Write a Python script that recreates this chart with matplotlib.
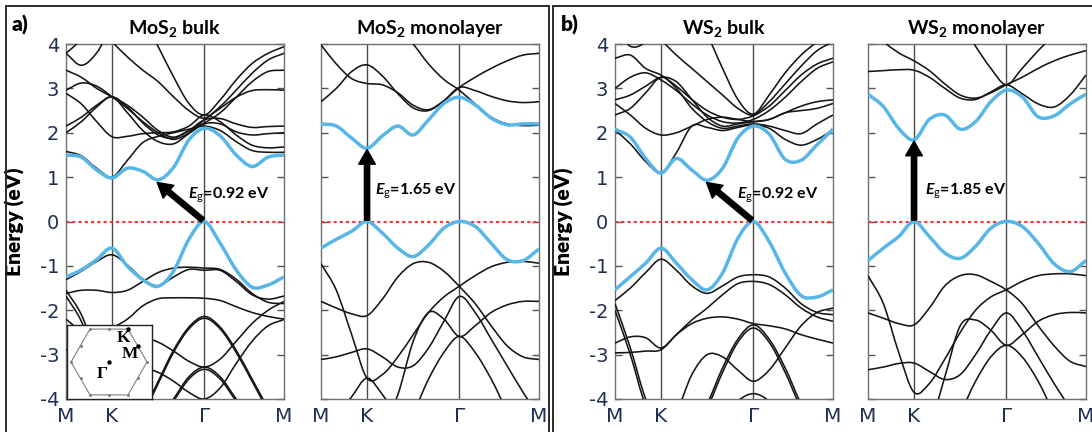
import numpy as np
import matplotlib
matplotlib.use('Agg')
import matplotlib.pyplot as plt
from matplotlib.path import Path
from matplotlib.patches import PathPatch, Rectangle, RegularPolygon

plt.rcParams['font.family'] = 'DejaVu Sans'
plt.rcParams['axes.unicode_minus'] = False
plt.rcParams['mathtext.fontset'] = 'custom'
plt.rcParams['mathtext.rm'] = 'Lato'
plt.rcParams['mathtext.it'] = 'Lato:italic:bold'
plt.rcParams['mathtext.bf'] = 'Lato:bold'

# k-path M-K-Gamma-M (units of 2pi/a, |MK| = 1/3, |KG| = 2/3, |GM| = 1/sqrt3)
k_path = [0.0, 0.111, 0.222, 0.333, 0.444, 0.556, 0.667, 0.778, 0.889, 1.0,
          1.115, 1.231, 1.346, 1.462, 1.577]
sym_k = [0.0, 0.333, 1.0, 1.577]
sym_labels = ['M', 'K', 'Γ', 'M']

# ---- MoS2 bulk ----
mos2_bulk_cb = [1.50, 1.45, 1.16, 0.98, 1.20, 1.13, 0.94, 1.22, 1.84, 2.10, 1.93, 1.50, 1.24, 1.45, 1.50]
mos2_bulk_vb = [-1.25, -1.09, -0.86, -0.60, -1.01, -1.31, -1.46, -1.12, -0.40, 0.0, -0.49, -1.09, -1.48, -1.43, -1.25]
mos2_bulk_other = [
    [3.79, 3.52, 3.80, 4.40, 4.70, 4.70, 4.70, 4.70, 4.70, 4.70, 4.70, 4.70, 4.70, 4.70, 4.70],
    [3.79, 4.10, 4.50, 4.70, 4.70, 4.70, 4.70, 4.70, 4.70, 4.70, 4.70, 4.70, 4.70, 4.70, 4.70],
    [4.70, 4.70, 4.40, 4.05, 3.71, 3.41, 3.15, 2.81, 2.50, 2.33, 2.59, 2.96, 3.34, 3.64, 3.79],
    [4.70, 4.70, 4.70, 4.70, 4.70, 4.60, 3.94, 3.26, 2.66, 2.40, 2.74, 3.19, 3.56, 3.79, 3.94],
    [3.41, 3.25, 3.00, 2.81, 2.62, 2.35, 2.05, 1.90, 2.05, 2.22, 2.45, 2.80, 3.15, 3.38, 3.41],
    [2.96, 3.12, 3.05, 2.81, 2.55, 2.25, 2.00, 1.85, 2.00, 2.29, 2.55, 2.80, 2.95, 2.97, 2.96],
    [2.15, 2.35, 2.62, 2.81, 2.58, 2.22, 1.95, 1.88, 2.05, 2.29, 2.32, 2.20, 2.12, 2.14, 2.15],
    [2.00, 2.25, 2.58, 2.81, 2.45, 2.05, 1.80, 1.75, 1.98, 2.20, 2.20, 2.02, 1.95, 1.98, 2.00],
    [2.89, 2.65, 2.25, 1.91, 1.92, 1.98, 2.00, 2.02, 2.15, 2.40, 2.25, 1.95, 1.72, 1.66, 1.68],
    [1.58, 1.48, 1.20, 1.00, 1.38, 1.78, 1.92, 2.00, 2.08, 2.15, 2.05, 1.80, 1.60, 1.56, 1.56],
    [-1.31, -1.12, -0.90, -0.75, -0.98, -1.30, -1.45, -1.25, -1.08, -1.10, -1.10, -1.35, -1.65, -1.75, -1.68],
    [-1.62, -1.55, -1.55, -1.60, -1.55, -1.35, -1.15, -1.05, -1.03, -1.05, -1.08, -1.30, -1.62, -1.82, -1.85],
    [-2.90, -2.75, -2.55, -2.40, -2.20, -1.90, -1.74, -1.72, -1.72, -1.73, -1.78, -1.92, -2.05, -2.14, -2.20],
    [-4.70, -4.70, -4.70, -4.70, -4.70, -4.30, -3.60, -2.90, -2.38, -2.14, -2.38, -2.90, -3.55, -4.20, -4.70],
    [-4.70, -4.70, -4.70, -4.70, -4.70, -4.35, -3.65, -2.95, -2.42, -2.18, -2.42, -2.95, -3.60, -4.25, -4.70],
    [-4.70, -4.70, -4.00, -3.20, -2.75, -2.62, -2.72, -2.92, -3.15, -3.28, -3.10, -2.70, -2.30, -2.00, -1.80],
    [-4.70, -4.70, -4.70, -4.70, -4.70, -4.70, -4.50, -4.00, -3.50, -3.28, -3.50, -4.00, -4.50, -4.70, -4.70],
    [-4.70, -4.70, -4.70, -4.70, -4.70, -4.70, -4.55, -4.05, -3.55, -3.33, -3.55, -4.05, -4.55, -4.70, -4.70],
    [-1.55, -2.10, -3.00, -3.80, -4.70, -4.70, -4.70, -4.70, -4.70, -4.70, -4.70, -4.70, -4.70, -4.70, -4.70],
    [-1.68, -2.25, -3.15, -3.95, -4.70, -4.70, -4.70, -4.70, -4.70, -4.70, -4.70, -4.70, -4.70, -4.70, -4.70],
    [-2.20, -2.50, -2.90, -3.20, -3.30, -3.30, -3.40, -3.60, -3.85, -4.00, -3.75, -3.20, -2.70, -2.35, -2.21],
]

# ---- MoS2 monolayer ----
mos2_mono_cb = [2.20, 2.15, 1.88, 1.65, 1.93, 2.15, 1.95, 2.29, 2.66, 2.80, 2.63, 2.33, 2.18, 2.20, 2.20]
mos2_mono_vb = [-0.60, -0.40, -0.22, 0.0, -0.26, -0.60, -0.79, -0.53, -0.15, 0.0, -0.11, -0.49, -0.86, -0.88, -0.62]
mos2_mono_other = [
    [2.70, 3.00, 3.38, 3.53, 3.28, 2.88, 2.56, 2.50, 2.72, 3.02, 2.95, 2.82, 2.72, 2.68, 2.70],
    [3.98, 3.55, 3.22, 3.11, 3.08, 2.90, 2.62, 2.52, 2.72, 3.02, 3.25, 3.45, 3.62, 3.75, 3.79],
    [4.70, 4.70, 4.70, 4.70, 4.70, 4.40, 4.00, 3.55, 3.20, 2.96, 2.65, 2.35, 2.20, 2.16, 2.17],
    [-0.95, -1.55, -2.55, -3.53, -3.45, -3.05, -2.55, -2.05, -1.70, -1.46, -1.22, -1.02, -0.92, -0.90, -0.94],
    [-1.80, -1.95, -2.08, -2.12, -1.75, -1.25, -0.95, -0.92, -1.12, -1.46, -1.85, -2.35, -2.80, -3.05, -3.11],
    [-3.11, -3.05, -2.95, -2.87, -3.05, -3.28, -3.25, -2.85, -2.25, -1.69, -2.05, -2.65, -3.25, -3.85, -4.40],
    [-4.70, -4.70, -4.70, -4.70, -4.60, -3.90, -2.70, -2.05, -2.20, -2.59, -2.35, -2.05, -1.88, -1.80, -1.80],
    [-4.70, -4.70, -4.70, -4.70, -4.70, -4.70, -4.30, -3.55, -2.95, -2.59, -2.95, -3.55, -4.25, -4.70, -4.70],
    [-4.70, -4.40, -3.95, -3.53, -3.90, -4.40, -4.70, -4.70, -4.70, -4.70, -4.70, -4.70, -4.70, -4.70, -4.70],
]

# ---- WS2 bulk ----
ws2_bulk_cb = [2.08, 1.90, 1.42, 1.09, 1.42, 1.16, 0.93, 1.20, 1.88, 2.15, 1.97, 1.40, 1.38, 1.73, 2.08]
ws2_bulk_vb = [-1.54, -1.24, -0.94, -0.60, -0.94, -1.31, -1.54, -1.16, -0.38, 0.0, -0.45, -1.16, -1.67, -1.70, -1.54]
ws2_bulk_other = [
    [4.40, 3.95, 4.05, 4.50, 4.70, 4.70, 4.70, 4.70, 4.70, 4.70, 4.70, 4.70, 4.70, 4.70, 4.70],
    [3.68, 3.75, 3.45, 3.30, 3.05, 2.75, 2.50, 2.35, 2.30, 2.38, 2.60, 2.95, 3.30, 3.55, 3.68],
    [3.00, 3.25, 3.35, 3.19, 2.95, 2.65, 2.40, 2.25, 2.22, 2.30, 2.50, 2.80, 3.15, 3.45, 3.60],
    [2.74, 2.85, 3.05, 3.25, 3.15, 2.75, 2.35, 2.15, 2.20, 2.25, 2.30, 2.45, 2.60, 2.70, 2.74],
    [2.40, 2.55, 2.90, 3.25, 3.00, 2.55, 2.25, 2.10, 2.15, 2.20, 2.15, 2.05, 1.98, 2.20, 2.40],
    [2.66, 2.40, 2.10, 1.95, 2.00, 2.15, 2.30, 2.35, 2.30, 2.25, 2.30, 2.45, 2.50, 2.55, 2.66],
    [2.06, 1.75, 1.35, 1.10, 1.55, 2.15, 2.12, 2.05, 2.12, 2.18, 2.10, 1.85, 1.72, 1.85, 2.06],
    [4.70, 4.70, 4.50, 4.10, 3.75, 3.45, 3.15, 2.85, 2.55, 2.40, 2.70, 3.10, 3.50, 3.85, 4.05],
    [4.70, 4.70, 4.70, 4.70, 4.70, 4.70, 4.20, 3.45, 2.75, 2.42, 2.85, 3.35, 3.75, 4.05, 4.30],
    [-1.78, -1.50, -1.15, -0.85, -1.10, -1.45, -1.62, -1.45, -1.25, -1.20, -1.25, -1.50, -1.85, -2.05, -2.10],
    [-2.96, -2.95, -2.92, -2.89, -2.55, -2.22, -1.95, -1.65, -1.40, -1.35, -1.42, -1.65, -1.95, -2.15, -2.25],
    [-2.74, -2.60, -2.62, -2.85, -2.55, -2.30, -2.18, -2.15, -2.20, -2.30, -2.35, -2.42, -2.55, -2.65, -2.74],
    [-4.70, -4.70, -4.70, -4.70, -4.70, -4.60, -4.10, -3.30, -2.65, -2.33, -2.65, -3.30, -4.10, -4.60, -4.70],
    [-4.70, -4.70, -4.70, -4.70, -4.70, -4.70, -4.20, -3.40, -2.72, -2.40, -2.72, -3.40, -4.20, -4.70, -4.70],
    [-4.70, -4.70, -4.70, -4.70, -4.30, -3.45, -3.00, -3.05, -3.35, -3.60, -3.35, -2.85, -2.35, -2.05, -1.95],
    [-1.85, -2.85, -4.00, -4.70, -4.70, -4.70, -4.70, -4.70, -4.70, -4.70, -4.70, -4.70, -4.70, -4.70, -4.70],
    [-2.00, -3.00, -4.15, -4.70, -4.70, -4.70, -4.70, -4.70, -4.70, -4.70, -4.70, -4.70, -4.70, -4.70, -4.70],
    [-4.70, -4.70, -4.70, -4.70, -4.70, -4.70, -4.70, -4.50, -4.05, -3.88, -4.05, -4.50, -4.70, -4.70, -4.70],
]

# ---- WS2 monolayer ----
ws2_mono_cb = [2.87, 2.59, 2.10, 1.84, 2.30, 2.40, 2.08, 2.25, 2.70, 2.96, 2.81, 2.36, 2.38, 2.65, 2.87]
ws2_mono_vb = [-0.88, -0.60, -0.34, 0.0, -0.34, -0.71, -0.83, -0.56, -0.15, 0.0, -0.11, -0.49, -0.95, -1.13, -0.88]
ws2_mono_other = [
    [3.38, 3.40, 3.42, 3.41, 3.25, 3.00, 2.78, 2.75, 2.92, 3.08, 2.88, 2.65, 2.58, 2.85, 3.30],
    [4.30, 4.05, 3.80, 3.62, 3.40, 3.10, 2.85, 2.78, 2.90, 3.08, 3.25, 3.45, 3.62, 3.75, 3.85],
    [4.70, 4.70, 4.70, 4.70, 4.70, 4.70, 4.50, 3.95, 3.45, 3.08, 3.45, 3.85, 4.20, 4.50, 4.70],
    [-1.22, -1.85, -2.95, -3.85, -3.65, -3.10, -2.50, -2.00, -1.70, -1.54, -1.35, -1.22, -1.18, -1.18, -1.22],
    [-2.06, -2.18, -2.30, -2.33, -1.95, -1.45, -1.22, -1.20, -1.35, -1.54, -1.85, -2.35, -2.80, -3.15, -3.27],
    [-3.34, -3.28, -3.20, -3.19, -3.38, -3.56, -3.45, -3.00, -2.45, -2.06, -2.45, -3.05, -3.65, -4.20, -4.70],
    [-4.70, -4.70, -4.70, -4.70, -4.60, -3.50, -2.35, -2.22, -2.45, -2.79, -2.55, -2.25, -2.10, -2.05, -2.06],
    [-4.70, -4.70, -4.70, -4.70, -4.70, -4.70, -4.30, -3.60, -3.05, -2.79, -3.05, -3.60, -4.30, -4.70, -4.70],
]

# gap arrows: (k_tip, E_tip, k_tail, E_tail), label and its position
gap_arrows = [(0.660, 0.88, 0.99, 0.03), (0.333, 1.62, 0.333, 0.03),
              (0.662, 0.88, 0.99, 0.03), (0.333, 1.81, 0.333, 0.03)]
gap_values = [0.92, 1.65, 0.92, 1.85]
gap_text_pos = [(0.885, 0.58), (0.392, 0.675), (0.885, 0.58), (0.415, 0.675)]

titles = [r'MoS$_\mathbf{2}$ bulk', r'MoS$_\mathbf{2}$ monolayer',
          r'WS$_\mathbf{2}$ bulk', r'WS$_\mathbf{2}$ monolayer']
panel_left = [66, 321, 615, 868]

TICK_COLOR = '#1f3050'
BLUE = '#58b6e6'


def draw_band(ax, e, **kw):
    # smooth cubic (Hermite) curve through the band energies
    k = np.array(k_path)
    e = np.array(e, dtype=float)
    slope = np.gradient(e, k)
    verts = [(k[0], e[0])]
    codes = [Path.MOVETO]
    for i in range(len(k) - 1):
        h = k[i + 1] - k[i]
        verts += [(k[i] + h / 3, e[i] + slope[i] * h / 3),
                  (k[i + 1] - h / 3, e[i + 1] - slope[i + 1] * h / 3),
                  (k[i + 1], e[i + 1])]
        codes += [Path.CURVE4] * 3
    ax.add_patch(PathPatch(Path(verts, codes), fill=False, **kw))


fig = plt.figure(figsize=(10.92, 4.32), dpi=100)

# frames around a) and b)
fig.add_artist(Rectangle((5.5 / 1092, -0.05), (549 - 5.5) / 1092, 1.05 - 6 / 432,
                         transform=fig.transFigure, fill=False, lw=1.4, ec='#2a2a2a'))
fig.add_artist(Rectangle((553 / 1092, -0.05), 1.0, 1.05 - 6 / 432,
                         transform=fig.transFigure, fill=False, lw=1.4, ec='#2a2a2a'))
fig.text(12 / 1092, 1 - 25 / 432, 'a)', fontfamily='Lato', fontweight='heavy', fontsize=15, va='center')
fig.text(561 / 1092, 1 - 25 / 432, 'b)', fontfamily='Lato', fontweight='heavy', fontsize=15, va='center')

panels = [(mos2_bulk_cb, mos2_bulk_vb, mos2_bulk_other),
          (mos2_mono_cb, mos2_mono_vb, mos2_mono_other),
          (ws2_bulk_cb, ws2_bulk_vb, ws2_bulk_other),
          (ws2_mono_cb, ws2_mono_vb, ws2_mono_other)]

for p, (cb, vb, other) in enumerate(panels):
    ax = fig.add_axes([panel_left[p] / 1092, 33 / 432, 218 / 1092, 355 / 432])
    ax.set_xlim(0, k_path[-1])
    ax.set_ylim(-4, 4)
    ax.set_yticks(range(-4, 5))
    ax.tick_params(axis='y', direction='in', left=True, right=True, length=5, width=1,
                   color='#555555', labelsize=14, labelcolor=TICK_COLOR, pad=5,
                   labelleft=(p % 2 == 0))
    ax.set_xticks(sym_k)
    ax.set_xticklabels(sym_labels)
    ax.tick_params(axis='x', length=0, pad=6, labelsize=14.5, labelcolor=TICK_COLOR)
    for s in ax.spines.values():
        s.set_color('#707070')
        s.set_linewidth(1.0)
    for x in sym_k[1:3]:
        ax.axvline(x, color='#4a4a4a', lw=1.0, zorder=1)
    ax.axhline(0, color='#ff3030', lw=1.5, ls=(0, (1.5, 1.5)), zorder=2)

    for band in other:
        draw_band(ax, band, ec='#151515', lw=1.15, zorder=3)
    draw_band(ax, cb, ec=BLUE, lw=2.5, zorder=4)
    draw_band(ax, vb, ec=BLUE, lw=2.5, zorder=4)

    kt, et, k0, e0 = gap_arrows[p]
    ax.annotate('', xy=(kt, et), xytext=(k0, e0),
                arrowprops=dict(facecolor='black', edgecolor='black', width=3.8,
                                headwidth=12, headlength=10.5, shrink=0.0), zorder=6)
    tx, ty = gap_text_pos[p]
    ax.text(tx, ty, r'$E_{\mathrm{g}}$' + '={:.2f} eV'.format(gap_values[p]),
            fontfamily='Lato', fontweight='bold', fontsize=11.5, va='center', ha='left', zorder=7)

    ax.set_title(titles[p], fontfamily='Lato', fontweight='bold', fontsize=14, pad=7)
    if p % 2 == 0:
        ax.set_ylabel('Energy (eV)', fontfamily='Lato', fontweight='heavy', fontsize=15)
        ax.yaxis.set_label_coords(-0.19, 0.5)

# Brillouin zone sketch in the MoS2 bulk panel
ins = fig.add_axes([66.5 / 1092, 33 / 432, 85 / 1092, 74 / 432])
ins.set_xlim(-42.5, 42.5)
ins.set_ylim(-37, 37)
ins.set_xticks([])
ins.set_yticks([])
for s in ins.spines.values():
    s.set_color('#222222')
    s.set_linewidth(1.0)
R = 38.0
ins.add_patch(RegularPolygon((0, 0), 6, radius=R, orientation=np.pi / 6,
                             fill=False, ec='#808080', lw=0.8))
ang = np.arange(6) * np.pi / 3
vx, vy = R * np.cos(ang), R * np.sin(ang)
mx, my = (vx + np.roll(vx, -1)) / 2, (vy + np.roll(vy, -1)) / 2
ins.plot(np.r_[vx, mx], np.r_[vy, my], 'o', ms=1.2, color='#808080')
gx, gy = 0.0, 0.0
kx, ky = vx[1], vy[1]
mx0, my0 = mx[0], my[0]
ins.plot([gx, kx, mx0], [gy, ky, my0], 'o', ms=2.2, color='black')
ins.text(kx - 5, ky - 8.7, 'K', fontfamily='Liberation Serif', fontweight='bold', fontsize=12.5,
         ha='center', va='center')
ins.text(mx0 - 7.5, my0 - 8.7, 'M', fontfamily='Liberation Serif', fontweight='bold', fontsize=12.5,
         ha='center', va='center')
ins.text(gx - 6.7, gy - 11.7, 'Γ', fontfamily='Liberation Serif', fontweight='bold', fontsize=12.5,
         ha='center', va='center')

fig.savefig('out.png', dpi=100)
